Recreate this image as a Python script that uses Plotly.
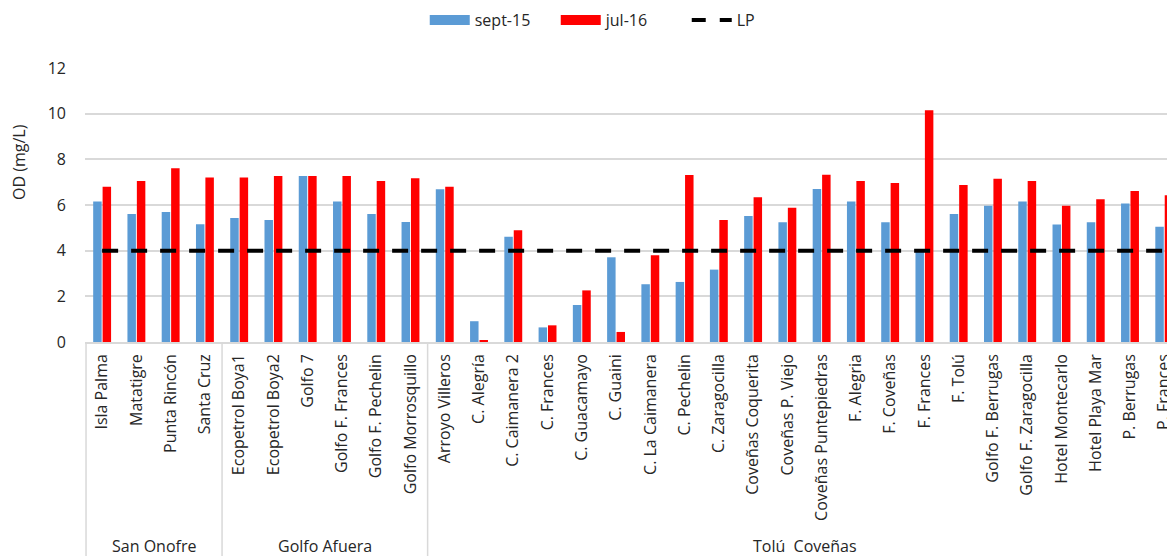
import plotly.graph_objects as go

categories = ["Isla Palma", "Matatigre", "Punta Rincón", "Santa Cruz",
              "Ecopetrol Boya1", "Ecopetrol Boya2", "Golfo 7", "Golfo F. Frances",
              "Golfo F. Pechelin", "Golfo Morrosquillo",
              "Arroyo Villeros", "C. Alegría", "C. Caimanera 2", "C. Frances",
              "C. Guacamayo", "C. Guaini", "C. La Caimanera", "C. Pechelin",
              "C. Zaragocilla", "Coveñas Coquerita", "Coveñas P. Viejo",
              "Coveñas Puntepiedras", "F. Alegria", "F. Coveñas", "F. Frances",
              "F. Tolú", "Golfo F. Berrugas", "Golfo F. Zaragocilla",
              "Hotel Montecarlo", "Hotel Playa Mar", "P. Berrugas", "P. Frances"]

groups = ["San Onofre", "Golfo Afuera", "Tolú\u00a0 Coveñas"]
group_sizes = [4, 6, 22]

sept15 = [6.15, 5.61, 5.69, 5.16,
          5.43, 5.34, 7.27, 6.15, 5.61, 5.26,
          6.69, 0.91, 4.61, 0.64, 1.62, 3.71, 2.53, 2.63, 3.17, 5.52, 5.24,
          6.70, 6.15, 5.24, 4.00, 5.61, 5.97, 6.15, 5.15, 5.24, 6.07, 5.05]
jul16 = [6.80, 7.05, 7.61, 7.20,
         7.20, 7.27, 7.27, 7.27, 7.05, 7.17,
         6.80, 0.05, 4.89, 0.73, 2.26, 0.44, 3.80, 7.31, 5.34, 6.34, 5.88,
         7.33, 7.05, 6.96, 10.15, 6.88, 7.15, 7.05, 5.97, 6.25, 6.61, 6.43]
lp_value = 4

y_ticks = [0, 2, 4, 6, 8, 10, 12]

FONT = "Open Sans"
FS = 16
TXT = "#262626"
GRID = "#D9D9D9"
BLUE = "#5B9BD5"
RED = "#FF0000"

fig = go.Figure()
fig.add_trace(go.Bar(x=categories, y=sept15, name="sept-15", showlegend=False,
                     marker=dict(color=BLUE, line=dict(width=0))))
fig.add_trace(go.Bar(x=categories, y=jul16, name="jul-16", showlegend=False,
                     marker=dict(color=RED, line=dict(width=0))))
fig.add_trace(go.Scatter(x=categories, y=[lp_value] * len(categories), name="LP",
                         showlegend=False, mode="lines",
                         line=dict(color="black", width=4, dash="16px,13px")))
# legend entries (wide swatches like the original)
fig.add_trace(go.Scatter(x=[None], y=[None], name="sept-15", mode="lines",
                         line=dict(color=BLUE, width=11)))
fig.add_trace(go.Scatter(x=[None], y=[None], name="jul-16", mode="lines",
                         line=dict(color=RED, width=11)))
fig.add_trace(go.Scatter(x=[None], y=[None], name="LP", mode="lines",
                         line=dict(color="black", width=4, dash="14px,14px")))

# group separators and group labels
shapes = []
annotations = []
start = 0
for i, (g, n) in enumerate(zip(groups, group_sizes)):
    xpos = start - 0.5 + (0.03 if i == 0 else 0)
    shapes.append(dict(type="line", xref="x", yref="paper",
                       x0=xpos, x1=xpos, y0=0, y1=-0.79,
                       line=dict(color=GRID, width=1.5)))
    annotations.append(dict(xref="x", yref="paper", x=start + (n - 1) / 2, y=-0.745,
                            text=g, showarrow=False, xanchor="center", yanchor="middle",
                            font=dict(family=FONT, size=FS, color=TXT)))
    start += n

annotations.append(dict(xref="paper", yref="paper", x=-0.061, y=0.657,
                        text="OD (mg/L)", textangle=-90, showarrow=False,
                        xanchor="center", yanchor="middle",
                        font=dict(family=FONT, size=FS, color=TXT)))

fig.update_layout(
    width=1167, height=556,
    margin=dict(l=85, r=0, t=68, b=214, autoexpand=False),
    paper_bgcolor="white", plot_bgcolor="white",
    barmode="group", bargap=0.45, bargroupgap=0.1,
    font=dict(family=FONT, size=FS, color=TXT),
    legend=dict(orientation="h", x=0.314, xanchor="left",
                yref="container", y=0.964, yanchor="middle",
                font=dict(family=FONT, size=FS, color=TXT), itemwidth=40,
                entrywidth=76, traceorder="normal"),
    shapes=shapes,
    annotations=annotations,
    showlegend=True,
)
fig.update_xaxes(
    range=[-0.5, 31.08], tickangle=-90, showgrid=False, automargin=False,
    showline=True, linecolor=GRID, linewidth=1.5, ticks="", ticklabelstandoff=4,
    tickfont=dict(family=FONT, size=FS, color=TXT),
)
fig.update_yaxes(
    range=[0, 12], tickvals=y_ticks, showgrid=True, gridcolor=GRID, gridwidth=1.5,
    zeroline=False, showline=False, ticks="", ticklabelstandoff=18, automargin=False,
    tickfont=dict(family=FONT, size=FS, color=TXT),
)

fig.write_html("out.html", config={"displayModeBar": False},
               post_script="document.body.style.margin='0';document.body.style.overflow='hidden';")
